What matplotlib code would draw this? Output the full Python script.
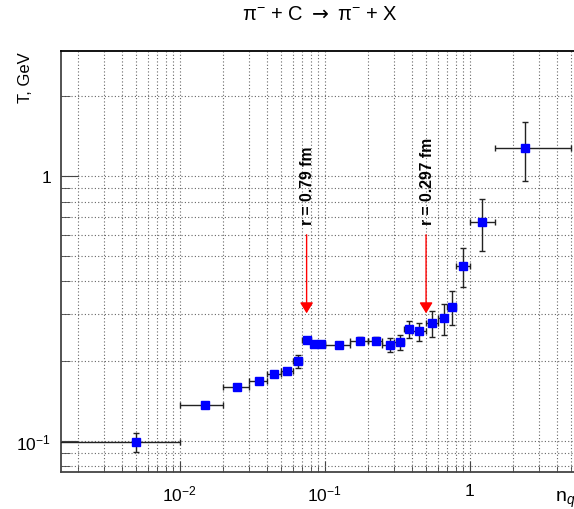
import matplotlib
matplotlib.use('Agg')
import matplotlib.pyplot as plt
from matplotlib.ticker import LogLocator, NullFormatter, FixedLocator

plt.rcParams['font.family'] = ['Liberation Sans', 'DejaVu Sans']
plt.rcParams['mathtext.fontset'] = 'custom'
plt.rcParams['mathtext.rm'] = 'Liberation Sans'
plt.rcParams['mathtext.it'] = 'Liberation Sans:italic'
plt.rcParams['mathtext.sf'] = 'DejaVu Sans'

# n_q bins and measured T values
x_val = [0.005, 0.015, 0.025, 0.035, 0.045, 0.055, 0.065, 0.075, 0.085, 0.095,
         0.125, 0.175, 0.225, 0.28, 0.33, 0.38, 0.45, 0.55, 0.66, 0.76, 0.9, 1.21, 2.4]
x_lo = [1e-4, 0.01, 0.02, 0.03, 0.04, 0.05, 0.06, 0.07, 0.08, 0.09,
        0.1, 0.15, 0.2, 0.25, 0.3, 0.35, 0.4, 0.5, 0.6, 0.7, 0.8, 1.0, 1.5]
x_hi = [0.01, 0.02, 0.03, 0.04, 0.05, 0.06, 0.07, 0.08, 0.09, 0.1,
        0.15, 0.2, 0.25, 0.3, 0.35, 0.4, 0.5, 0.6, 0.7, 0.8, 1.0, 1.5, 5.0]
t_val = [0.0986, 0.137, 0.160, 0.168, 0.179, 0.183, 0.200, 0.241, 0.233, 0.233,
         0.231, 0.239, 0.239, 0.230, 0.236, 0.264, 0.259, 0.278, 0.290, 0.320,
         0.458, 0.670, 1.276]
t_err = [0.008, 0.003, 0.003, 0.003, 0.003, 0.004, 0.011, 0.005, 0.004, 0.004,
         0.004, 0.007, 0.007, 0.014, 0.015, 0.020, 0.020, 0.032, 0.040, 0.047,
         0.078, 0.150, 0.320]

arrow_x = [0.075, 0.5]
arrow_text = ['r = 0.79 fm', 'r = 0.297 fm']


def main():
    fig = plt.figure(figsize=(5.74, 5.10), dpi=100)
    ax = fig.add_axes([60.7 / 574, 37 / 510, 554 / 574, 420.7 / 510])
    ax.set_xscale('log')
    ax.set_yscale('log')
    ax.set_xlim(10 ** -2.821, 10)
    ax.set_ylim(0.0762, 2.96)

    xerr = [[x - lo for x, lo in zip(x_val, x_lo)],
            [hi - x for x, hi in zip(x_val, x_hi)]]
    ax.errorbar(x_val, t_val, xerr=xerr, yerr=t_err, fmt='s', color='#0000ff',
                ms=5.5, mec='#0000ff', ecolor='#222222', elinewidth=1,
                capsize=2.3, capthick=1, zorder=3)

    for xa, txt in zip(arrow_x, arrow_text):
        ax.annotate('', xy=(xa, 0.303), xytext=(xa, 0.6),
                    arrowprops=dict(arrowstyle='-|>,head_width=0.4,head_length=0.65',
                                    color='red', lw=1, shrinkA=0, shrinkB=0))
        ax.text(xa * 1.015, 0.66, txt, rotation=90, ha='center', va='bottom',
                fontweight='bold', fontsize=11.3)

    ax.xaxis.set_major_locator(FixedLocator([0.01, 0.1, 1]))
    ax.set_xticklabels(['$10^{-2}$', '$10^{-1}$', '1'])
    ax.xaxis.set_minor_locator(LogLocator(base=10, subs=range(2, 10), numticks=20))
    ax.xaxis.set_minor_formatter(NullFormatter())
    ax.yaxis.set_major_locator(FixedLocator([0.1, 1]))
    ax.set_yticklabels(['$10^{-1}$', '1'])
    ax.yaxis.set_minor_locator(LogLocator(base=10, subs=range(2, 10), numticks=20))
    ax.yaxis.set_minor_formatter(NullFormatter())

    ax.tick_params(axis='both', which='both', direction='in', color='#444444',
                   labelsize=12.5, top=False, right=False)
    ax.tick_params(axis='x', which='major', length=8, pad=8)
    ax.tick_params(axis='x', which='minor', length=4.5)
    ax.tick_params(axis='y', which='major', length=12, pad=7)
    ax.tick_params(axis='y', which='minor', length=6.5)

    ax.grid(which='both', ls=(0, (1, 2)), color='#666666', lw=0.8)
    for side in ['left', 'bottom', 'top']:
        ax.spines[side].set_linewidth(1.3)
        ax.spines[side].set_color('#444444')
    ax.spines['top'].set_color('black')

    fig.text(320 / 574, 1 - 15 / 510,
             r'$\mathrm{\pi}^{-}$ + C $\mathsf{\rightarrow}$ $\mathrm{\pi}^{-}$ + X',
             ha='center', va='center', fontsize=14.5)
    fig.text(25 / 574, 1 - 52 / 510, 'T, GeV', rotation=90, ha='center', va='top',
             fontsize=12)
    fig.text(555 / 574, 1 - 500 / 510, 'n$_{q}$', ha='left', va='center', fontsize=14)

    fig.savefig('out.png', dpi=100)


if __name__ == '__main__':
    main()
